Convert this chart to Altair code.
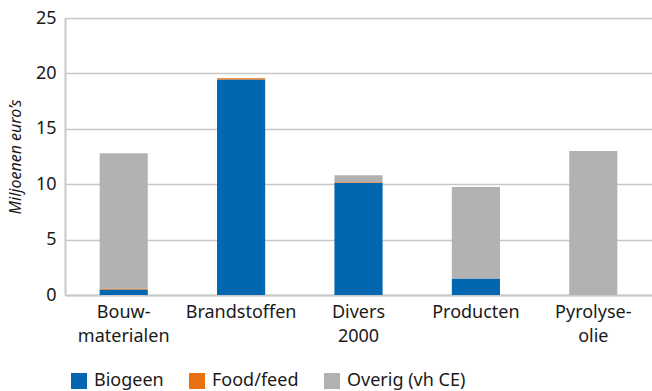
import altair as alt
import pandas as pd

categories = ["Bouw-\nmaterialen", "Brandstoffen", "Divers\n2000", "Producten", "Pyrolyse-\nolie"]
series = ["Biogeen", "Food/feed", "Overig (vh CE)"]
biogeen = [0.5, 19.45, 10.1, 1.5, 0.0]
food_feed = [0.08, 0.12, 0.08, 0.0, 0.0]
overig = [12.22, 0.0, 0.62, 8.25, 13.0]
colors = ["#0067B0", "#E8700F", "#B2B2B2"]

rows = []
for i, cat in enumerate(categories):
    for j, (name, vals) in enumerate(zip(series, [biogeen, food_feed, overig])):
        rows.append({"cat": cat, "serie": name, "waarde": vals[i], "volg": j})
df = pd.DataFrame(rows)

FONT = "Noto Sans"
INK = "#1a1a1a"

chart = (
    alt.Chart(df)
    .mark_bar()
    .encode(
        x=alt.X(
            "cat:N",
            sort=categories,
            scale=alt.Scale(paddingInner=0.59, paddingOuter=0.295),
            axis=alt.Axis(
                title=None,
                labelAngle=0,
                labelExpr="split(datum.label, '\\n')",
                labelFontSize=18,
                labelFont=FONT,
                labelColor=INK,
                labelPadding=8,
                labelLineHeight=24,
                ticks=False,
                domainColor="#c8c8c8",
                domainWidth=2,
            ),
        ),
        y=alt.Y(
            "waarde:Q",
            stack="zero",
            scale=alt.Scale(domain=[0, 25], nice=False),
            axis=alt.Axis(
                title="Miljoenen euro’s",
                titleFont=FONT,
                titleFontStyle="italic",
                titleFontWeight="normal",
                titleFontSize=16,
                titleColor=INK,
                titlePadding=12,
                values=[0, 5, 10, 15, 20, 25],
                labelFontSize=18,
                labelFont=FONT,
                labelColor=INK,
                labelPadding=9,
                ticks=False,
                domainColor="#c8c8c8",
                domainWidth=2,
                gridColor="#c8c8c8",
                gridWidth=1.5,
            ),
        ),
        color=alt.Color(
            "serie:N",
            sort=series,
            scale=alt.Scale(domain=series, range=colors),
            legend=alt.Legend(
                title=None,
                orient="none",
                direction="horizontal",
                legendX=5,
                legendY=354,
                symbolType="square",
                symbolSize=256,
                symbolStrokeWidth=0,
                labelFontSize=18,
                labelFont=FONT,
                labelColor=INK,
                columnPadding=24,
                labelOffset=6,
            ),
        ),
        order=alt.Order("volg:Q"),
    )
    .properties(
        width=587,
        height=277,
        padding={"left": 65, "top": 18, "right": 0, "bottom": 96},
        autosize=alt.AutoSizeParams(type="none"),
    )
    .configure_view(stroke=None)
    .configure(background="white")
)

chart.save("out.html", embed_options={"renderer": "svg", "actions": False})
